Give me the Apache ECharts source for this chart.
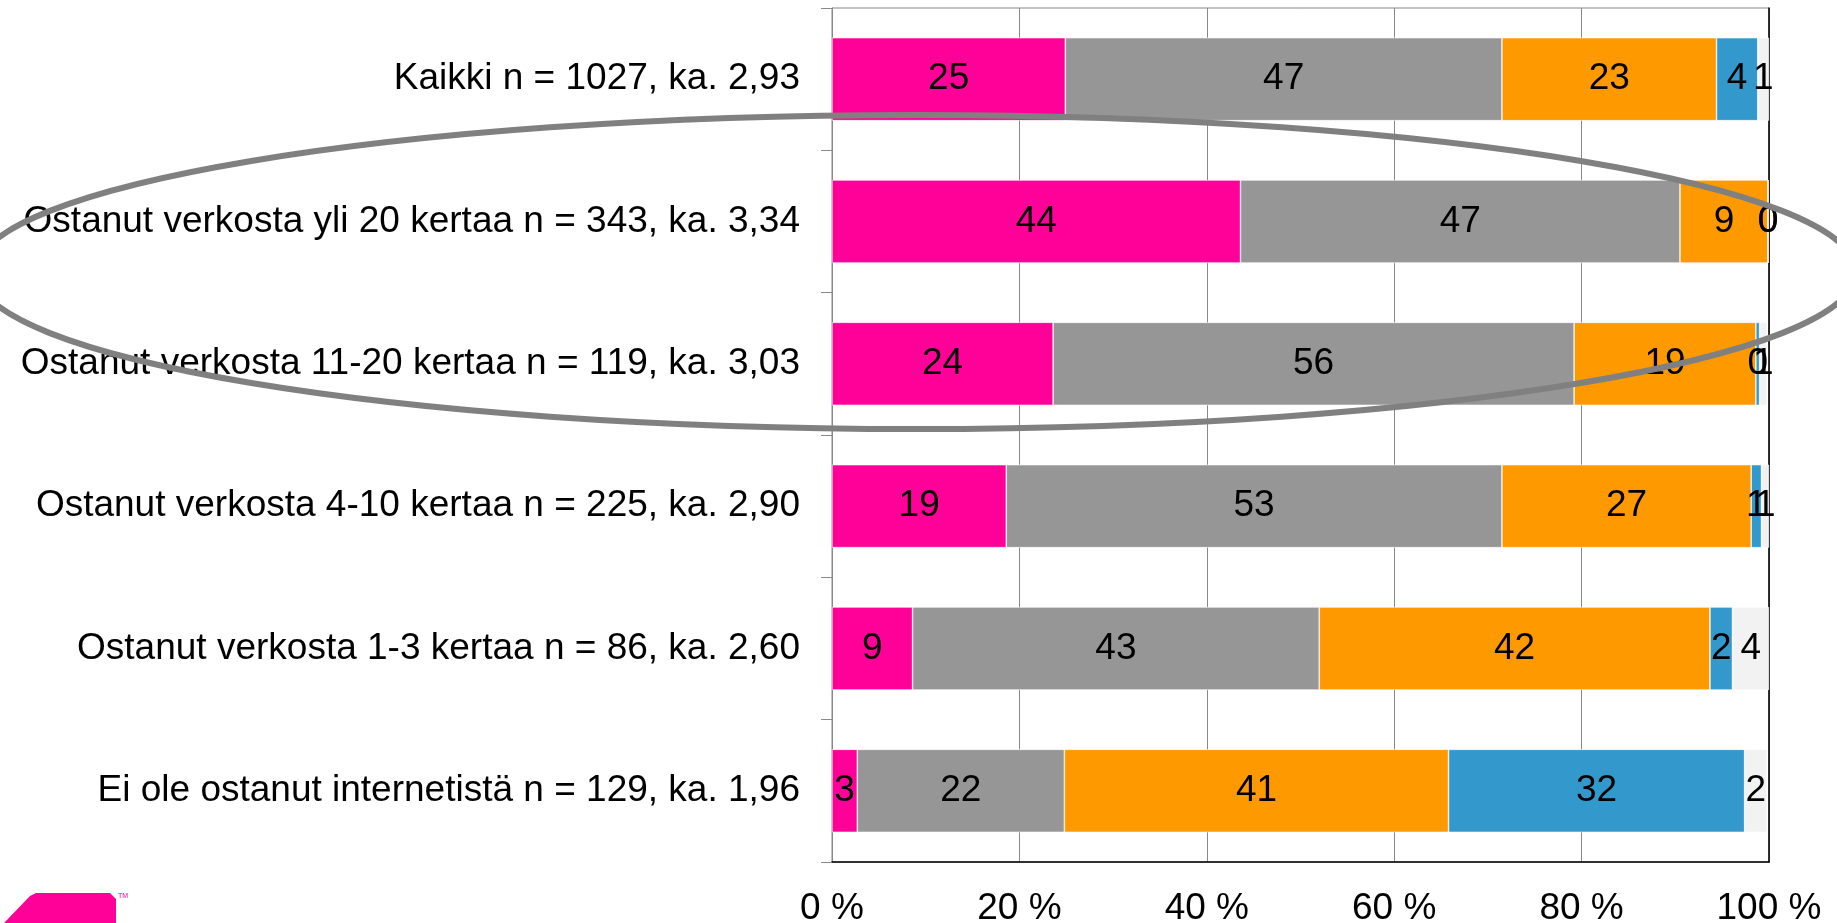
<!DOCTYPE html>
<html>
<head>
<meta charset="utf-8">
<script src="https://cdn.jsdelivr.net/npm/echarts@6/dist/echarts.min.js"></script>
<style>
    html, body { margin: 0; padding: 0; background: #fff; }
    #chart { width: 1837px; height: 923px; }
</style>
</head>
<body>
<div id="chart"></div>
<script>
// ryhmät (ylhäältä alas)
var categories = [
    'Kaikki n = 1027, ka. 2,93',
    'Ostanut verkosta yli 20 kertaa n = 343, ka. 3,34',
    'Ostanut verkosta 11-20 kertaa n = 119, ka. 3,03',
    'Ostanut verkosta 4-10 kertaa n = 225, ka. 2,90',
    'Ostanut verkosta 1-3 kertaa n = 86, ka. 2,60',
    'Ei ole ostanut internetistä n = 129, ka. 1,96'
];

// osuudet %
var val4 = [24.9, 43.6, 23.6, 18.6, 8.6, 2.7];
var val3 = [46.6, 46.9, 55.6, 52.9, 43.4, 22.1];
var val2 = [22.9, 9.4, 19.4, 26.6, 41.7, 41.0];
var val1 = [4.4, 0, 0.4, 1.1, 2.4, 31.6];
var valEos = [1.2, 0, 0.8, 0.8, 3.9, 2.4];

var xTicks = [0, 20, 40, 60, 80, 100];

var seriesNames = ['4', '3', '2', '1', 'Eos'];
var seriesData = [val4, val3, val2, val1, valEos];
var colors = ['#ff0099', '#969696', '#ff9900', '#3399cc', '#f2f2f2'];

var font = 'Liberation Sans, Arial, sans-serif';

var chart = echarts.init(document.getElementById('chart'));

var series = [];
for (var i = 0; i < seriesData.length; i++) {
    series.push({
        name: seriesNames[i],
        type: 'bar',
        stack: 'yht',
        barWidth: 83,
        data: seriesData[i],
        itemStyle: {
            color: colors[i],
            borderColor: '#ffffff',
            borderWidth: 0.6
        },
        label: {
            show: true,
            position: 'inside',
            color: '#000',
            fontSize: 37,
            fontFamily: font,
            formatter: function(p) {
                return Math.round(p.value);
            }
        }
    });
}

var option = {
    animation: false,
    color: colors,
    grid: {
        left: 832,
        right: 68,
        top: 8,
        bottom: 61,
        outerBoundsMode: 'none',
        show: true,
        borderColor: '#888888',
        borderWidth: 1
    },
    xAxis: {
        type: 'value',
        min: xTicks[0],
        max: xTicks[xTicks.length - 1],
        interval: 20,
        axisLine: { show: true, lineStyle: { color: '#000', width: 1.5 } },
        axisTick: { show: false },
        splitLine: { show: true, lineStyle: { color: '#888888', width: 1 } },
        axisLabel: {
            margin: 28,
            color: '#000',
            fontSize: 37,
            fontFamily: font,
            formatter: '{value} %'
        }
    },
    yAxis: [{
        type: 'category',
        inverse: true,
        data: categories,
        axisLine: { show: true, lineStyle: { color: '#888888', width: 1 } },
        axisTick: { show: true, inside: false, length: 11, lineStyle: { color: '#888888' } },
        axisLabel: {
            margin: 32,
            color: '#000',
            fontSize: 37,
            fontFamily: font
        }
    }, {
        // oikea reuna musta
        type: 'category',
        inverse: true,
        position: 'right',
        data: categories,
        axisLine: { show: true, lineStyle: { color: '#000', width: 1.5 } },
        axisTick: { show: false },
        axisLabel: { show: false }
    }],
    series: series,
    graphic: [{
        // korostusellipsi
        type: 'ellipse',
        z: 100,
        shape: { cx: 916, cy: 272, rx: 940, ry: 157 },
        style: { fill: 'none', stroke: '#808080', lineWidth: 6 }
    }, {
        // logo
        type: 'polygon',
        z: 100,
        shape: {
            points: [[4, 923], [30, 896], [36, 893], [110, 893], [116, 899], [116, 923]]
        },
        style: { fill: '#ff0099' }
    }, {
        type: 'text',
        z: 100,
        left: 118,
        top: 893,
        style: { text: 'TM', fill: '#ff0099', fontSize: 7, fontFamily: font }
    }]
};

chart.setOption(option);
</script>
</body>
</html>
